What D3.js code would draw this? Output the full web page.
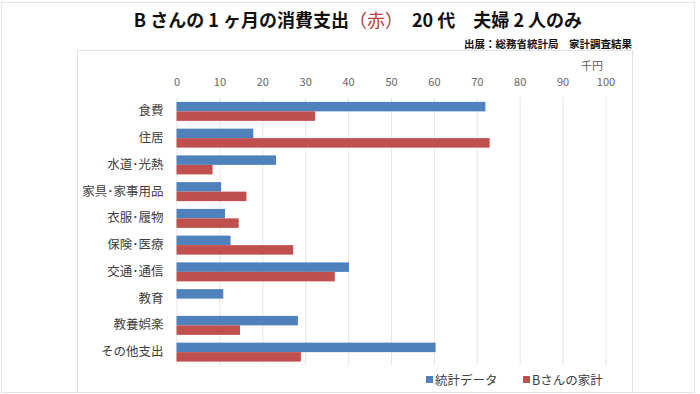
<!DOCTYPE html>
<html>
<head>
<meta charset="utf-8">
<script src="https://cdn.jsdelivr.net/npm/d3@7"></script>
<style>
  body { margin: 0; background: #fff; }
  text { font-family: "Noto Sans CJK JP", "Noto Sans", sans-serif; }
</style>
</head>
<body>
<div id="chart"></div>
<script>
// data
const categories = ['食費', '住居', '水道･光熱', '家具･家事用品', '衣服･履物', '保険･医療', '交通･通信', '教育', '教養娯楽', 'その他支出'];
const statValues = [72.0, 17.9, 23.2, 10.4, 11.3, 12.6, 40.2, 10.9, 28.3, 60.4];
const bValues = [32.3, 73.0, 8.4, 16.3, 14.5, 27.2, 36.9, 0, 14.8, 29.0];
const seriesNames = ['統計データ', 'Bさんの家計'];
const xTicks = [0, 10, 20, 30, 40, 50, 60, 70, 80, 90, 100];

const width = 700, height = 394;
const blue = '#4f81bd', red = '#c0504d';

const svg = d3.select('#chart').append('svg')
  .attr('width', width)
  .attr('height', height);

// outer frame and chart box
svg.append('rect')
  .attr('x', 1.5).attr('y', 2.5).attr('width', 693).attr('height', 390)
  .attr('fill', 'none').attr('stroke', '#e4e4e4');
svg.append('rect')
  .attr('x', 77.5).attr('y', 50.5).attr('width', 555).attr('height', 342)
  .attr('fill', '#fff').attr('stroke', '#e2e2e2');

// title
const title = svg.append('text')
  .attr('x', 358).attr('y', 27)
  .attr('text-anchor', 'middle')
  .style('font-size', '18px')
  .style('font-weight', 'bold')
  .attr('fill', '#111');
title.append('tspan').text('B さんの 1 ヶ月の消費支出');
title.append('tspan').attr('fill', '#b8403c').style('font-weight', 'normal').text('（赤）');
title.append('tspan').text('　20 代　夫婦 2 人のみ');

svg.append('text')
  .attr('x', 632).attr('y', 48)
  .attr('text-anchor', 'end')
  .style('font-size', '10.5px')
  .style('font-weight', 'bold')
  .attr('fill', '#111')
  .text('出展：総務省統計局　家計調査結果');

const margin = { left: 176.5, right: 94.5, top: 98, bottom: 28.5 };
const chartW = width - margin.left - margin.right;

const x = d3.scaleLinear().domain([0, 100]).range([margin.left, margin.left + chartW]);
const y = d3.scaleBand().domain(categories).range([margin.top, height - margin.bottom]).paddingInner(0.29).paddingOuter(0.145);
const sub = d3.scaleBand().domain(seriesNames).range([0, y.bandwidth()]);

// gridlines
svg.append('g')
  .selectAll('line')
  .data(xTicks)
  .join('line')
  .attr('x1', d => x(d) + 0.5).attr('x2', d => x(d) + 0.5)
  .attr('y1', margin.top - 1).attr('y2', height - margin.bottom)
  .attr('stroke', '#e6e6e6');

// top axis labels
const xAxis = d3.axisTop(x).tickValues(xTicks).tickSize(0).tickPadding(0);
const gx = svg.append('g')
  .attr('transform', 'translate(0,86)')
  .call(xAxis);
gx.select('.domain').remove();
gx.selectAll('text')
  .style('font-family', '"Noto Sans CJK JP", sans-serif')
  .style('font-size', '11px')
  .attr('fill', '#666');

svg.append('text')
  .attr('x', 592).attr('y', 70)
  .attr('text-anchor', 'middle')
  .style('font-size', '11px')
  .attr('fill', '#595959')
  .text('千円');

// category labels
const yAxis = d3.axisLeft(y).tickSize(0).tickPadding(13);
const gy = svg.append('g')
  .attr('transform', `translate(${margin.left},0)`)
  .call(yAxis);
gy.select('.domain').remove();
gy.selectAll('text')
  .style('font-family', '"Noto Sans CJK JP", sans-serif')
  .style('font-size', '12.5px')
  .attr('fill', '#404040');

// bars
const rows = svg.append('g')
  .selectAll('g')
  .data(categories)
  .join('g')
  .attr('transform', d => `translate(0,${y(d)})`);

rows.append('rect')
  .attr('x', x(0))
  .attr('y', sub('統計データ'))
  .attr('width', (d, i) => x(statValues[i]) - x(0))
  .attr('height', sub.bandwidth())
  .attr('fill', blue);

rows.append('rect')
  .attr('x', x(0))
  .attr('y', sub('Bさんの家計'))
  .attr('width', (d, i) => x(bValues[i]) - x(0))
  .attr('height', sub.bandwidth())
  .attr('fill', red);

// legend
const legendX = [426, 523];
const legend = svg.append('g')
  .selectAll('g')
  .data(seriesNames)
  .join('g')
  .attr('transform', (d, i) => `translate(${legendX[i]},380)`);
legend.append('rect')
  .attr('x', 0).attr('y', -4).attr('width', 7).attr('height', 7)
  .attr('fill', (d, i) => i === 0 ? blue : red);
legend.append('text')
  .attr('x', 9).attr('y', 4.5)
  .style('font-size', '12.5px')
  .attr('fill', '#404040')
  .text(d => d);
</script>
</body>
</html>
